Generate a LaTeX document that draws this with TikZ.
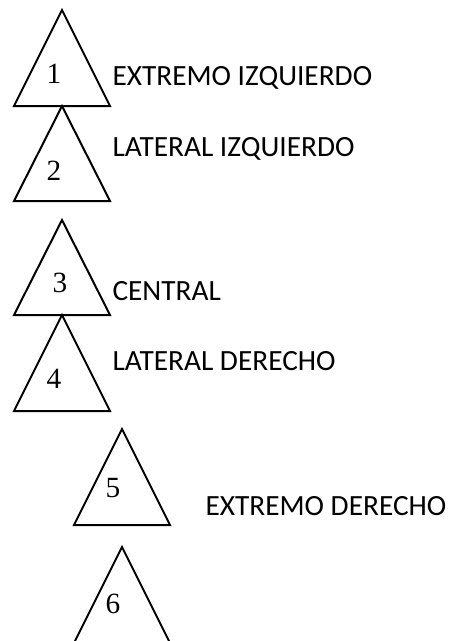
\documentclass[tikz,border=0pt]{standalone}
\usepackage{fontspec}
\setmainfont{Liberation Serif}
\newfontfamily\labelfont{Carlito}
\usetikzlibrary{positioning}

\tikzset{
    tri/.style={draw, line width=0.75pt, line join=miter},
    num/.style={inner sep=0pt, anchor=base, font=\fontsize{11}{13}\selectfont},
    zone/.style={inner sep=0pt, anchor=base west, font=\labelfont\fontsize{11}{13}\selectfont}
}

\begin{document}
\begin{tikzpicture}[x=0.375pt, y=-0.375pt]
                        \useasboundingbox (0,0) rectangle (452,641);
                        \clip (0,0) rectangle (452,641);
                        % triangles
                        \draw[tri] (62,10) -- (110,106) -- (14,106) -- cycle;
                        \draw[tri] (62,106) -- (110,201) -- (14,201) -- cycle;
                        \draw[tri] (62,220) -- (110,315) -- (14,315) -- cycle;
                        \draw[tri] (62,315) -- (110,411) -- (14,411) -- cycle;
                        \draw[tri] (122,429) -- (170,525) -- (74,525) -- cycle;
                        \draw[tri] (122,547) -- (170,643) -- (74,643) -- cycle;
                        % numbers
                        \node[num] (n1) at (54,83) {1};
                        \node[num] (n2) at (54,180) {2};
                        \node[num] (n3) at (60,292) {3};
                        \node[num] (n4) at (54,388) {4};
                        \node[num] (n5) at (113,497) {5};
                        \node[num] (n6) at (113,613) {6};
                        % labels
                        \node[zone] (ei) at (112,85) {EXTREMO IZQUIERDO};
                        \node[zone] (li) at (112,156) {LATERAL IZQUIERDO};
                        \node[zone] (ce) at (112,300) {CENTRAL};
                        \node[zone] (ld) at (112,370) {LATERAL DERECHO};
                        \node[zone] (ed) at (205,515) {EXTREMO DERECHO};
                    \end{tikzpicture}
\end{document}
